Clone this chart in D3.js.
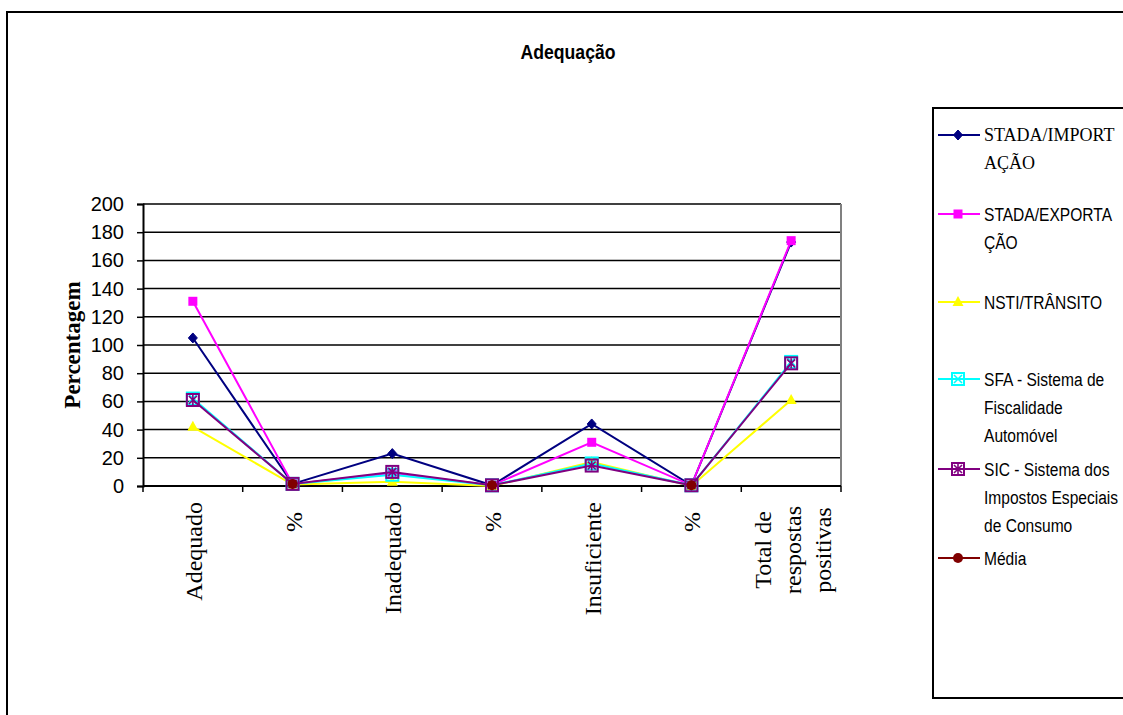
<!DOCTYPE html>
<html>
<head>
<meta charset="utf-8">
<script src="https://cdn.jsdelivr.net/npm/d3@7"></script>
<style>
  html, body { margin: 0; padding: 0; background: #fff; }
  svg { display: block; }
</style>
</head>
<body>
<svg id="chart" width="1123" height="715"></svg>
<script>
// ---- data ----
const title = "Adequação";
const yLabel = "Percentagem";
const categories = [["Adequado"], ["%"], ["Inadequado"], ["%"], ["Insuficiente"], ["%"], ["Total de", "respostas", "positivas"]];
const yTicks = [0, 20, 40, 60, 80, 100, 120, 140, 160, 180, 200];

const seriesNames = ["STADA/IMPORTAÇÃO", "STADA/EXPORTAÇÃO", "NSTI/TRÂNSITO", "SFA - Sistema de Fiscalidade Automóvel", "SIC - Sistema dos Impostos Especiais de Consumo", "Média"];
const legendLines = [["STADA/IMPORT", "AÇÃO"], ["STADA/EXPORTA", "ÇÃO"], ["NSTI/TRÂNSITO"], ["SFA - Sistema de", "Fiscalidade", "Automóvel"], ["SIC - Sistema dos", "Impostos Especiais", "de Consumo"], ["Média"]];

const importacao = [105, 1.5, 23, 0.5, 44, 0.5, 173];
const exportacao = [131, 1.5, 9, 0.5, 31, 0.5, 174];
const transito   = [42, 1, 3, 0, 17, 0, 61];
const sfa        = [62, 1.5, 8, 0.5, 16, 0.5, 88];
const sic        = [61, 1.5, 10, 0.5, 14.5, 0.5, 87];
const media      = [null, 1.5, null, 0.5, null, 0.5, null];

const seriesValues = [importacao, exportacao, transito, sfa, sic, media];
const seriesColors = ["#000080", "#FF00FF", "#FFFF00", "#00FFFF", "#800080", "#800000"];
const seriesMarkers = ["diamond", "square", "triangle", "boxx", "boxstar", "circle"];

// ---- layout ----
const svg = d3.select("#chart");
const serif = "'Liberation Serif', 'Times New Roman', serif";
const sans = "'Liberation Sans', Arial, sans-serif";

// outer frame
svg.append("rect").attr("x", 7).attr("y", 12).attr("width", 1140).attr("height", 720)
  .attr("fill", "none").attr("stroke", "#000").attr("stroke-width", 2);

const plot = { left: 143, right: 841, top: 204, bottom: 486 };
const idx = categories.map((d, i) => i);
const x = d3.scaleBand().domain(idx).range([plot.left, plot.right]);
const y = d3.scaleLinear().domain([0, 200]).range([plot.bottom, plot.top]);
const cx = i => x(i) + x.bandwidth() / 2;

// title (condensed look)
svg.append("text").attr("transform", "translate(568,59) scale(0.84,1)").attr("text-anchor", "middle")
  .attr("font-family", sans).attr("font-weight", "bold").attr("font-size", 21)
  .text(title);

// gridlines
svg.append("g").selectAll("line").data(yTicks.filter(v => v > 0)).join("line")
  .attr("x1", plot.left).attr("x2", plot.right)
  .attr("y1", d => y(d)).attr("y2", d => y(d))
  .attr("stroke", "#000").attr("stroke-width", 1.5);

// plot area right border
svg.append("line").attr("x1", plot.right).attr("x2", plot.right)
  .attr("y1", y(200)).attr("y2", y(0)).attr("stroke", "#808080").attr("stroke-width", 2);

// y axis
const yAxis = svg.append("g").attr("transform", `translate(${plot.left},0)`)
  .call(d3.axisLeft(y).tickValues(yTicks).tickSize(6).tickPadding(13).tickFormat(d3.format("d")));
yAxis.select(".domain").attr("stroke", "#000").attr("stroke-width", 2);
yAxis.selectAll(".tick line").attr("stroke", "#000").attr("stroke-width", 1.5);
yAxis.selectAll(".tick text").attr("font-family", sans).attr("font-size", 20).attr("fill", "#000");

// y label
svg.append("text").attr("transform", `translate(80,345) rotate(-90)`)
  .attr("text-anchor", "middle").attr("font-family", serif).attr("font-weight", "bold")
  .attr("font-size", 23).text(yLabel);

// x axis
const boundaries = idx.map(i => x(i)).concat([plot.right]);
svg.append("line").attr("x1", plot.left).attr("x2", plot.right)
  .attr("y1", y(0)).attr("y2", y(0)).attr("stroke", "#000").attr("stroke-width", 2);
svg.append("g").selectAll("line").data(boundaries).join("line")
  .attr("x1", d => d).attr("x2", d => d).attr("y1", y(0)).attr("y2", y(0) + 6)
  .attr("stroke", "#000").attr("stroke-width", 1.5);

// x labels
const xl = svg.append("g");
categories.forEach((lines, i) => {
  const n = lines.length;
  const g = xl.append("g");
  if (n === 1) {
    const off = lines[0] === "%" ? 26 : 16;
    g.append("text").attr("transform", `translate(${cx(i) + 9},${y(0) + off}) rotate(-90)`)
      .attr("text-anchor", "end").attr("font-family", serif).attr("font-size", 24)
      .text(lines[0]);
  } else {
    lines.forEach((t, j) => {
      g.append("text").attr("transform", `translate(${cx(i) - 20 + j * 30},${y(0) + 64}) rotate(-90)`)
        .attr("text-anchor", "middle").attr("font-family", serif).attr("font-size", 24)
        .text(t);
    });
  }
});

// marker drawer
function drawMarker(g, type, color, px, py) {
  const s = 4.5;
  if (type === "diamond") {
    g.append("path").attr("d", `M${px},${py - s - 0.5}L${px + s},${py}L${px},${py + s + 0.5}L${px - s},${py}Z`)
      .attr("fill", color).attr("stroke", color).attr("stroke-width", 1);
  } else if (type === "square") {
    g.append("rect").attr("x", px - 4.5).attr("y", py - 4.5).attr("width", 9).attr("height", 9)
      .attr("fill", color);
  } else if (type === "triangle") {
    g.append("path").attr("d", `M${px},${py - 6}L${px + 5.5},${py + 4}L${px - 5.5},${py + 4}Z`)
      .attr("fill", color);
  } else if (type === "boxx" || type === "boxstar") {
    const h = 6;
    g.append("rect").attr("x", px - h).attr("y", py - h).attr("width", 2 * h).attr("height", 2 * h)
      .attr("fill", "none").attr("stroke", color).attr("stroke-width", 2);
    g.append("path").attr("d", `M${px - h + 2},${py - h + 2}L${px + h - 2},${py + h - 2}M${px + h - 2},${py - h + 2}L${px - h + 2},${py + h - 2}` +
      (type === "boxstar" ? `M${px},${py - h + 1}L${px},${py + h - 1}` : ""))
      .attr("stroke", color).attr("stroke-width", 1.6).attr("fill", "none");
  } else if (type === "circle") {
    g.append("circle").attr("cx", px).attr("cy", py).attr("r", 5).attr("fill", color);
  }
}

// series
const line = d3.line().defined(d => d[1] !== null).x(d => cx(d[0])).y(d => y(d[1]));
seriesValues.forEach((vals, s) => {
  const g = svg.append("g");
  const pts = vals.map((v, i) => [i, v]);
  g.append("path").datum(pts).attr("d", line).attr("fill", "none")
    .attr("stroke", seriesColors[s]).attr("stroke-width", 2);
  pts.filter(p => p[1] !== null).forEach(p => drawMarker(g, seriesMarkers[s], seriesColors[s], cx(p[0]), y(p[1])));
});

// legend
svg.append("rect").attr("x", 933).attr("y", 108).attr("width", 220).attr("height", 590)
  .attr("fill", "#fff").attr("stroke", "#000").attr("stroke-width", 2);
const legendY = [135, 214, 302, 379, 469, 558];
legendLines.forEach((lines, s) => {
  const g = svg.append("g");
  const ly = legendY[s];
  g.append("line").attr("x1", 938).attr("x2", 980).attr("y1", ly).attr("y2", ly)
    .attr("stroke", seriesColors[s]).attr("stroke-width", 2);
  drawMarker(g, seriesMarkers[s], seriesColors[s], 958, ly);
  lines.forEach((t, j) => {
    const tx = g.append("text").attr("fill", "#000").text(t);
    if (s === 0) {
      tx.attr("x", 984).attr("y", ly + 6 + j * 28).attr("font-family", serif).attr("font-size", 18);
    } else {
      tx.attr("transform", `translate(984,${ly + 7 + j * 28}) scale(0.82,1)`)
        .attr("font-family", sans).attr("font-size", 19);
    }
  });
});
</script>
</body>
</html>
